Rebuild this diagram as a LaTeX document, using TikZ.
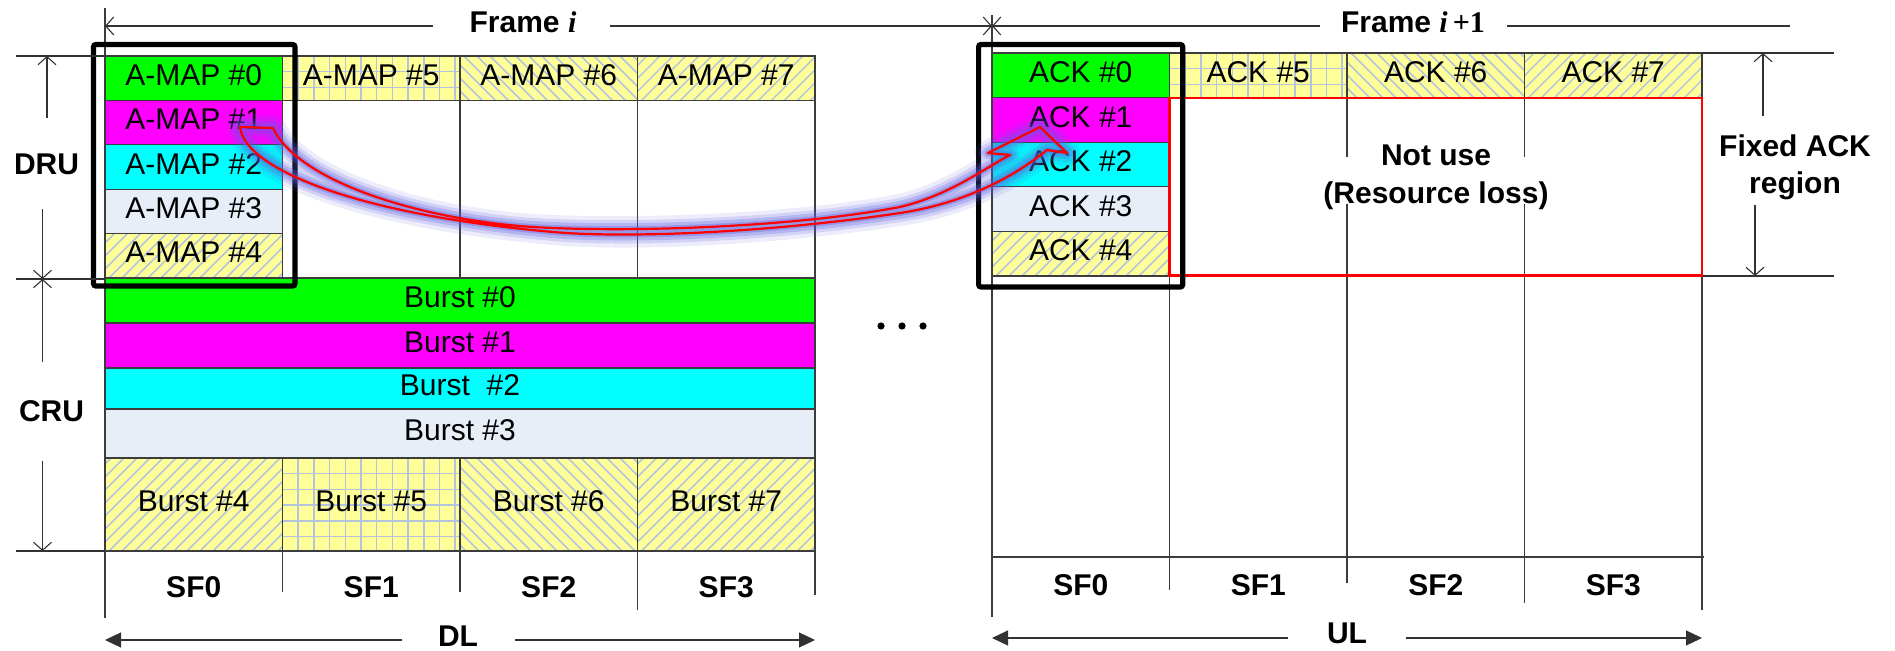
\documentclass[tikz,border=0pt]{standalone}
\usepackage{fontspec}
\setmainfont{Liberation Sans}
\newfontfamily\tms{Liberation Serif}
\usetikzlibrary{arrows.meta}

\definecolor{cgreen}{RGB}{0,255,0}
\definecolor{cmag}{RGB}{255,0,255}
\definecolor{ccyan}{RGB}{0,255,255}
\definecolor{clight}{RGB}{232,238,248}
\definecolor{hy}{RGB}{255,255,153}
\definecolor{hb}{RGB}{180,196,222}
\definecolor{gridc}{RGB}{60,60,60}
\definecolor{dimc}{RGB}{50,50,50}
\definecolor{arrL}{RGB}{146,172,172}
\definecolor{arrR}{RGB}{184,222,226}
\definecolor{glowc}{RGB}{95,95,222}

\newcommand\fsz{\fontsize{15}{18}\selectfont}
% plain coloured cell of the grid plus its centred label
\newcommand\mkcell[7]{%
  \path[#6] (#2,#3) rectangle (#4,#5);
  \node[celltext] (#1) at ({(#2+#4)/2},{(#3+#5)/2}) {#7};}
% hatchings: "/" lines, "\" lines and a square grid, clipped to a cell
\newcommand\hatchR[4]{%
  \begin{scope}\clip (#1,#2) rectangle (#3,#4);
  \foreach \k in {-100,-87,...,190} \draw[hatchln] ({#1+\k},#4) -- ++(110,-110);
  \end{scope}}
\newcommand\hatchL[4]{%
  \begin{scope}\clip (#1,#2) rectangle (#3,#4);
  \foreach \k in {-100,-87,...,190} \draw[hatchln] ({#1+\k},#2) -- ++(110,110);
  \end{scope}}
\newcommand\hatchG[4]{%
  \begin{scope}\clip (#1,#2) rectangle (#3,#4);
  \foreach \k in {15.7,31.4,...,180} {
    \draw[hatchln] ({#1+\k},#2) -- ({#1+\k},#4);
    \draw[hatchln] (#1,{#2+\k}) -- (#3,{#2+\k});}
  \end{scope}}
% yellow hatched cell: fill, hatching, border, label
\newcommand\pcell[7]{%
  \fill[hy] (#2,#3) rectangle (#4,#5);
  #6{#2}{#3}{#4}{#5}
  \draw[cellb] (#2,#3) rectangle (#4,#5);
  \node[celltext] (#1) at ({(#2+#4)/2},{(#3+#5)/2}) {#7};}

\begin{document}
\begin{tikzpicture}[x=0.5pt,y=-0.5pt,
  celltext/.style={font=\fsz, text height=0.716em, text depth=0pt, inner sep=0pt},
  boldtext/.style={font=\fsz\bfseries, text height=0.716em, text depth=0pt, inner sep=0pt},
  cellb/.style={draw=gridc, line width=0.6pt},
  cellG/.style={cellb, fill=cgreen},
  cellM/.style={cellb, fill=cmag},
  cellC/.style={cellb, fill=ccyan},
  cellL/.style={cellb, fill=clight},
  hatchln/.style={draw=hb, line width=0.75pt},
  gline/.style={draw=gridc, line width=0.6pt},
  dimline/.style={draw=dimc, line width=0.55pt},
  barbs/.style={-{Straight Barb[length=4pt,width=9pt]}},
  barbe/.style={{Straight Barb[length=4pt,width=9pt]}-},
  trihead/.style={-{Triangle[length=8pt,width=7.5pt]}},
  tritail/.style={{Triangle[length=8pt,width=7.5pt]}-},
  blackbox/.style={draw=black, line width=2.6pt, rounded corners=1.2pt},
  glowline/.style={draw=glowc, line join=round, line cap=round}
]
\useasboundingbox (0,0) rectangle (1895,651);

% ---------------- downlink frame i ----------------
\mkcell{am0}{105}{56}{282.5}{100.4}{cellG}{A-MAP \#0}
\pcell{am5}{282.5}{56}{460}{100.4}{\hatchG}{A-MAP \#5}
\pcell{am6}{460}{56}{637.5}{100.4}{\hatchL}{A-MAP \#6}
\pcell{am7}{637.5}{56}{815}{100.4}{\hatchR}{A-MAP \#7}
\mkcell{am1}{105}{100.4}{282.5}{144.8}{cellM}{A-MAP \#1}
\mkcell{am2}{105}{144.8}{282.5}{189.2}{cellC}{A-MAP \#2}
\mkcell{am3}{105}{189.2}{282.5}{233.6}{cellL}{A-MAP \#3}
\pcell{am4}{105}{233.6}{282.5}{278}{\hatchR}{A-MAP \#4}

\mkcell{b0}{105}{278}{815}{323}{cellG}{Burst \#0}
\mkcell{b1}{105}{323}{815}{368}{cellM}{Burst \#1}
\mkcell{b2}{105}{368}{815}{409}{cellC}{Burst \ \#2}
\mkcell{b3}{105}{409}{815}{458}{cellL}{Burst \#3}
\pcell{b4}{105}{458}{282.5}{551}{\hatchR}{Burst \#4}
\pcell{b5}{282.5}{458}{460}{551}{\hatchG}{Burst \#5}
\pcell{b6}{460}{458}{637.5}{551}{\hatchL}{Burst \#6}
\pcell{b7}{637.5}{458}{815}{551}{\hatchR}{Burst \#7}

% column lines of the downlink grid
\draw[gline] (460,100.4) -- (460,278);
\draw[gline] (637.5,100.4) -- (637.5,278);
\draw[gline] (815,100.4) -- (815,278);
\draw[gline] (105,8) -- (105,618);
\draw[gline] (282.5,551) -- (282.5,592);
\draw[gline] (460,551) -- (460,592);
\draw[gline] (637.5,551) -- (637.5,610);
\draw[gline] (815,551) -- (815,595);

\foreach \i/\x in {0/193.75,1/371.25,2/548.75,3/726.25}
  \node[boldtext] (dsf\i) at (\x,590) {SF\i};

% ---------------- uplink frame i+1 ----------------
\mkcell{ak0}{992}{53}{1169.5}{97.6}{cellG}{ACK \#0}
\pcell{ak5}{1169.5}{53}{1347}{97.6}{\hatchG}{ACK \#5}
\pcell{ak6}{1347}{53}{1524.5}{97.6}{\hatchL}{ACK \#6}
\pcell{ak7}{1524.5}{53}{1702}{97.6}{\hatchR}{ACK \#7}
\mkcell{ak1}{992}{97.6}{1169.5}{142.2}{cellM}{ACK \#1}
\mkcell{ak2}{992}{142.2}{1169.5}{186.8}{cellC}{ACK \#2}
\mkcell{ak3}{992}{186.8}{1169.5}{231.4}{cellL}{ACK \#3}
\pcell{ak4}{992}{231.4}{1169.5}{276}{\hatchR}{ACK \#4}

\draw[gline] (992,15) -- (992,617);
\draw[gline] (1169.5,97.6) -- (1169.5,590);
\draw[gline] (1347,97.6) -- (1347,583);
\draw[gline] (1524.5,97.6) -- (1524.5,603);
\draw[gline] (1702,97.6) -- (1702,610);
\draw[gline] (992,557) -- (1704,557);
\draw[dimline] (1702,53) -- (1834,53);
\draw[dimline] (1702,276) -- (1834,276);

\foreach \i/\x in {0/1080.75,1/1258.25,2/1435.75,3/1613.25}
  \node[boldtext] (usf\i) at (\x,588.5) {SF\i};

% unused part of the fixed ACK region
\fill[white] (1330,157) rectangle (1545,204);
\node[boldtext] (nu1) at (1436,158.6) {Not use};
\node[boldtext] (nu2) at (1436,196) {(Resource loss)};
\draw[red, line width=1.4pt] (1169.5,98) rectangle (1702,275.5);

% highlighted first sub-frame columns
\draw[blackbox] (93.5,44.5) rectangle (295,286);
\draw[blackbox] (978.6,44.5) rectangle (1182.7,287);

% ---------------- dimension lines ----------------
\node[boldtext] (dru) at (46.5,167) {DRU};
\node[boldtext] (cru) at (51.5,414) {CRU};
\coordinate (druA) at (47,56);   \coordinate (druB) at (47,118);
\coordinate (druC) at (42.5,209); \coordinate (druD) at (42.5,279);
\coordinate (cruC) at (42.5,362); \coordinate (cruD) at (42.5,461);
\coordinate (cruE) at (42.5,551);
\draw[dimline] (16,56) -- (105,56);
\draw[dimline] (16,279) -- (105,279);
\draw[dimline] (16,551) -- (105,551);
\draw[dimline,barbe] (druA) -- (druB);
\draw[dimline,barbs] (druC) -- (druD);
\draw[dimline,barbe] (druD) -- (cruC);
\draw[dimline,barbs] (cruD) -- (cruE);

\node[boldtext] (fri) at (523,25.5) {Frame {\tms\itshape i}};
\node[boldtext] (frj) at (1413,25.5) {Frame {\tms\itshape i}\,{\tms +1}};
\coordinate (fA) at (105,26);  \coordinate (fB) at (433,26);
\coordinate (fC) at (610,26);  \coordinate (fD) at (992,26);
\coordinate (fE) at (1320,26); \coordinate (fF) at (1507,26);
\coordinate (fG) at (1790,26);
\draw[dimline,barbe] (fA) -- (fB);
\draw[dimline,barbs] (fC) -- (fD);
\draw[dimline,barbe] (fD) -- (fE);
\draw[dimline] (fF) -- (fG);

\node[boldtext] (fa1) at (1795,149.3) {Fixed ACK};
\node[boldtext] (fa2) at (1795,186.3) {region};
\coordinate (xA) at (1763,53);  \coordinate (xB) at (1763,116);
\coordinate (xC) at (1755,205); \coordinate (xD) at (1755,276);
\draw[dimline,barbe] (xA) -- (xB);
\draw[dimline,barbs] (xC) -- (xD);

\node[boldtext] (dl) at (458,639) {DL};
\node[boldtext] (ul) at (1347,636) {UL};
\coordinate (dA) at (105,640);  \coordinate (dB) at (402,640);
\coordinate (dC) at (515,640);  \coordinate (dD) at (815,640);
\coordinate (uA) at (992,638);  \coordinate (uB) at (1288,638);
\coordinate (uC) at (1406,638); \coordinate (uD) at (1702,638);
\draw[dimline,tritail] (dA) -- (dB);
\draw[dimline,trihead] (dC) -- (dD);
\draw[dimline,tritail] (uA) -- (uB);
\draw[dimline,trihead] (uC) -- (uD);

% frames in between
\foreach \x in {881,902,923} \fill[black] (\x,326) circle (3.6);

% ---------------- curved block arrow A-MAP -> ACK ----------------
\path[save path=\bandp]
  (240,127) .. controls (245,170) and (360,215) .. (553,232)
            .. controls (620,238) and (760,234) .. (900,213)
            .. controls (960,204) and (1010,180) .. (1047,150)
  -- (1067,153) -- (1040,127) -- (988,153) -- (1010,155)
            .. controls (985,168) and (950,195) .. (900,207)
            .. controls (800,226) and (650,232) .. (553,228)
            .. controls (435,224) and (300,185) .. (273,128)
  -- cycle;
\path[glowline, opacity=0.12, line width=13pt, use path=\bandp];
\path[glowline, opacity=0.18, line width=9pt, use path=\bandp];
\path[glowline, opacity=0.26, line width=6pt, use path=\bandp];
\path[glowline, opacity=0.36, line width=3pt, use path=\bandp];
\path[draw=red, line width=1.1pt, line join=round, left color=arrL, right color=arrR, use path=\bandp];
\end{tikzpicture}
\end{document}
